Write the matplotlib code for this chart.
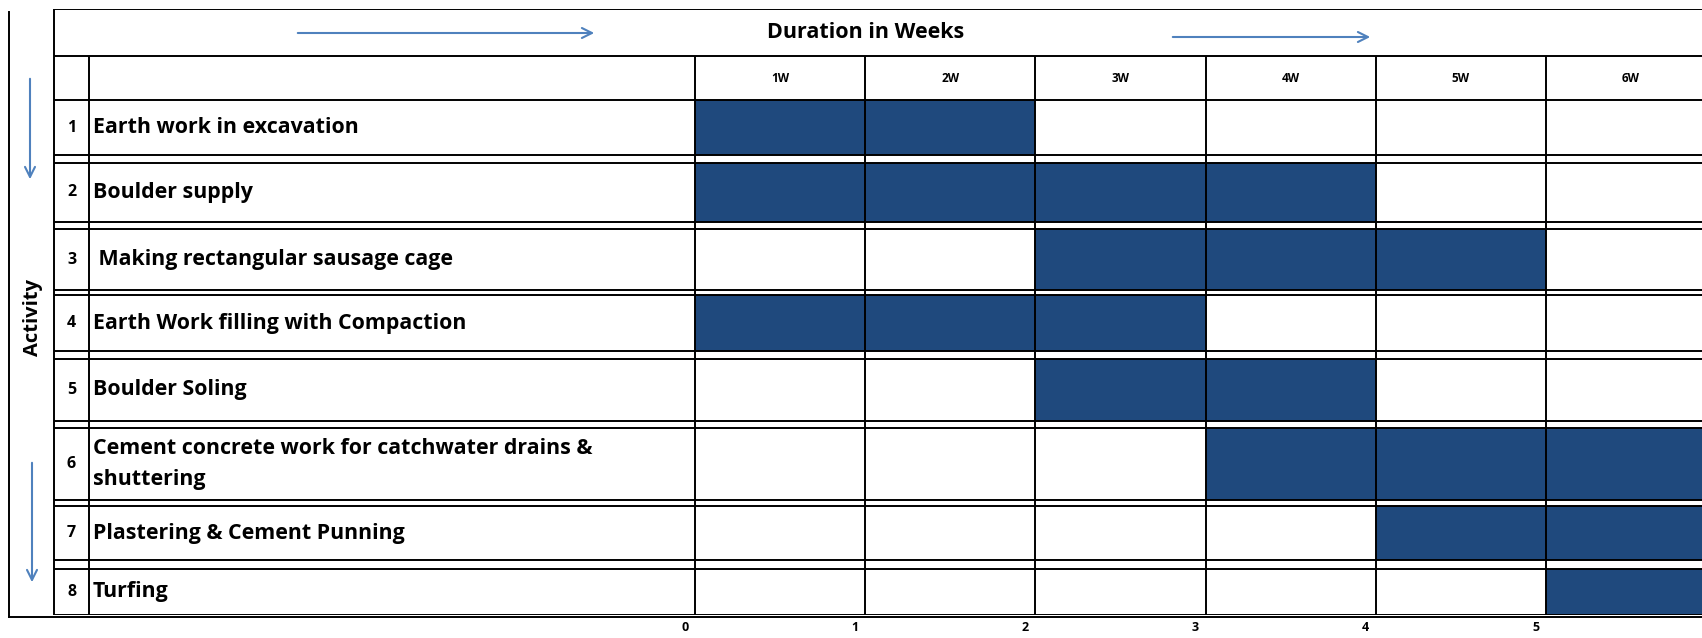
import matplotlib
matplotlib.use("Agg")
import matplotlib.pyplot as plt
from matplotlib.transforms import ScaledTranslation

# activity schedule (weeks counted from 0)
row_no = ["1", "2", "3", "4", "5", "6", "7", "8"]
activities = [
    "Earth work in excavation",
    "Boulder supply",
    " Making rectangular sausage cage",
    "Earth Work filling with Compaction",
    "Boulder Soling",
    "Cement concrete work for catchwater drains &\nshuttering",
    "Plastering & Cement Punning",
    "Turfing",
]
start_week = [0, 0, 2, 0, 2, 3, 4, 5]
n_weeks = [2, 4, 3, 3, 2, 3, 2, 1]
week_labels = ["1W", "2W", "3W", "4W", "5W", "6W"]
axis_ticks = [0, 1, 2, 3, 4, 5]

# layout (pixels of the 1702x638 picture)
W, H = 1702, 638
X0_PX = 695          # left edge of week 1
WEEK_PX = 170.2
TABLE_L, NUM_R = 54, 89
TABLE_T, HEAD1_B, HEAD2_B, TABLE_B = 9, 56, 100, 615
row_top = [100, 163, 229, 295, 359, 428, 506, 569]
row_bot = [155, 222, 290, 351, 421, 500, 560, 615]

BAR = "#1F497D"
ARROW = "#4F81BD"
FONT = "Open Sans"


def wk(px):
    return (px - X0_PX) / WEEK_PX


fig = plt.figure(figsize=(W / 100, H / 100), dpi=100)
ax = fig.add_axes([0, (H - TABLE_B) / H, 1, (TABLE_B - TABLE_T) / H])
ax.set_xlim(wk(0), wk(W))
ax.set_ylim(TABLE_B, TABLE_T)
for s in ax.spines.values():
    s.set_visible(False)
ax.set_yticks([])

xr = wk(W + 30)
lw = 1.4

# bars
centers = [(t + b) / 2 for t, b in zip(row_top, row_bot)]
heights = [b - t for t, b in zip(row_top, row_bot)]
ax.barh(centers, n_weeks, left=start_week, height=heights, color=BAR,
        edgecolor="none", zorder=2)

# table grid
ax.hlines([TABLE_T, HEAD1_B], wk(TABLE_L), xr, color="black", lw=lw, zorder=3)
ax.hlines(row_top + row_bot, wk(TABLE_L), xr, color="black", lw=lw, zorder=3)
ax.vlines(wk(TABLE_L), TABLE_T, TABLE_B, color="black", lw=lw, zorder=3)
ax.vlines(wk(NUM_R), HEAD1_B, TABLE_B, color="black", lw=lw, zorder=3)
ax.vlines(range(len(week_labels) + 1), HEAD1_B, TABLE_B, color="black",
          lw=lw, zorder=3)

# outer frame
ax.plot([wk(9), wk(9)], [12, 617], color="black", lw=lw, clip_on=False)
ax.plot([wk(9), xr], [617, 617], color="black", lw=lw, clip_on=False)

# texts
ax.text(wk(866), 33, "Duration in Weeks", ha="center", va="center",
        fontsize=15.5, fontweight="bold", family=FONT)
for i, lab in enumerate(week_labels):
    ax.text(i + 0.5, 78, lab, ha="center", va="center", fontsize=8.5,
            fontweight="bold", family=FONT)
for i in range(len(activities)):
    ax.text(wk((TABLE_L + NUM_R) / 2), centers[i], row_no[i], ha="center",
            va="center", fontsize=11.5, fontweight="bold", family=FONT)
    ax.text(wk(NUM_R + 4), centers[i], activities[i], ha="left",
            va="center", fontsize=15.4, fontweight="bold", family=FONT,
            linespacing=1.6)
ax.text(wk(33), 317, "Activity", rotation=90, ha="center", va="center",
        fontsize=14.5, fontweight="bold", family=FONT)

# arrows
arr = dict(arrowstyle="->", color=ARROW, lw=1.5, mutation_scale=18)
ax.annotate("", xy=(wk(597), 33), xytext=(wk(295), 33), arrowprops=arr)
ax.annotate("", xy=(wk(1373), 37), xytext=(wk(1170), 37), arrowprops=arr)
ax.annotate("", xy=(wk(30), 182), xytext=(wk(30), 76), arrowprops=arr)
ax.annotate("", xy=(wk(32), 585), xytext=(wk(32), 460), arrowprops=arr)

# week axis at the bottom
ax.set_xticks(axis_ticks)
ax.set_xticklabels([str(t) for t in axis_ticks], fontsize=9,
                   fontweight="bold", family=FONT)
ax.tick_params(axis="x", length=0, pad=4)
shift = ScaledTranslation(-10 / 100, 0, fig.dpi_scale_trans)
for lab in ax.get_xticklabels():
    lab.set_transform(lab.get_transform() + shift)

fig.savefig("out.png", dpi=100)
